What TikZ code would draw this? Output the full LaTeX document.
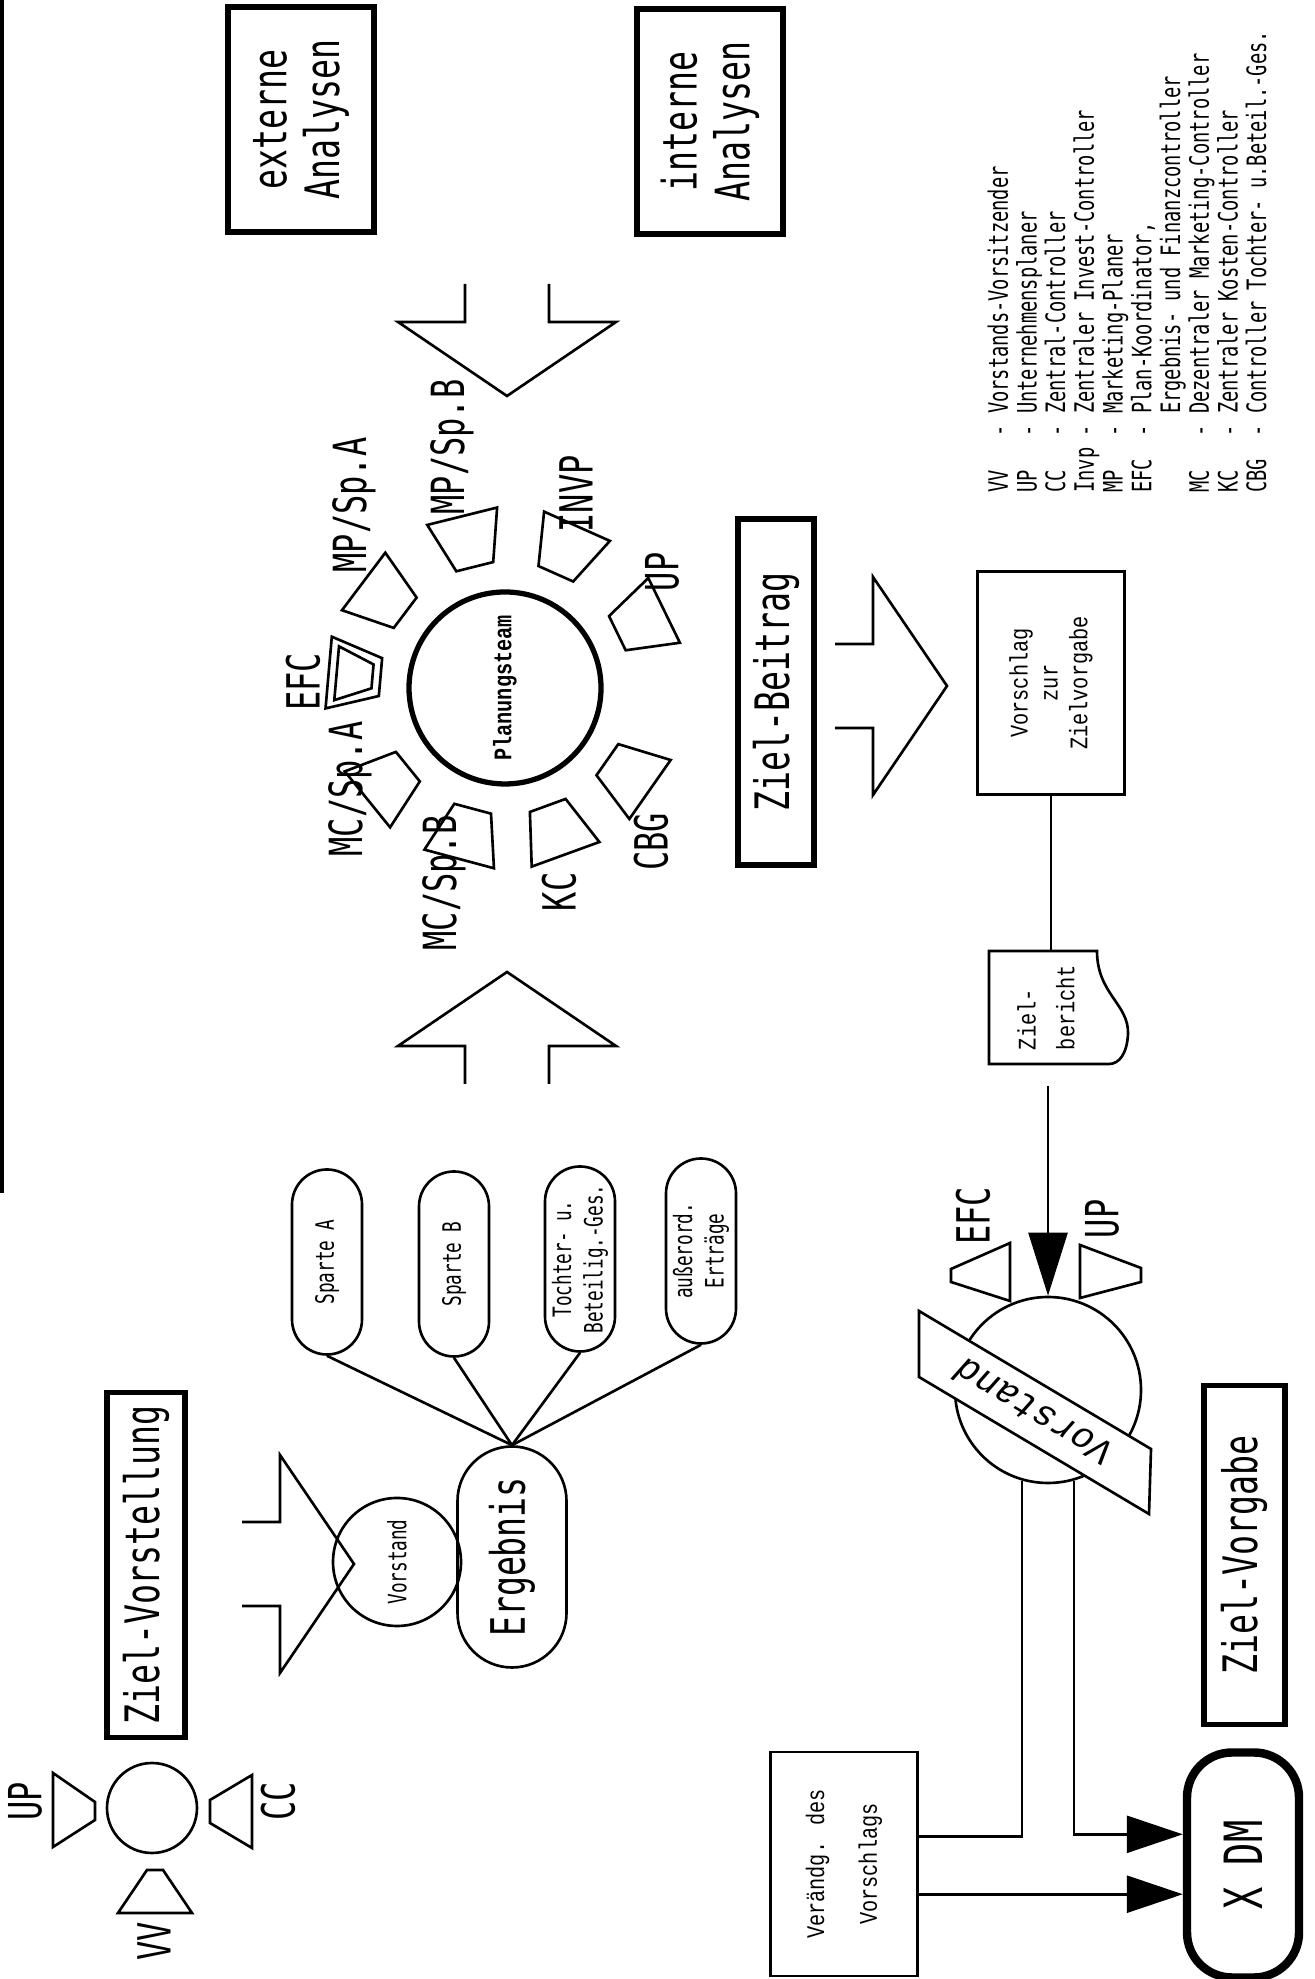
\documentclass[tikz,border=0pt]{standalone}
\usepackage{fontspec}
\usetikzlibrary{shapes.misc,arrows.meta}

\newfontfamily\labfont[FakeStretch=0.7]{DejaVu Sans Mono}
\newfontfamily\typfont[FakeStretch=0.8]{Liberation Mono}
\newfontfamily\bandfont{Liberation Mono}

\tikzset{
  titlebox/.style={draw, line width=1.7pt, inner sep=0pt, align=center,
    font=\labfont\fontsize{13.5}{15}\selectfont},
  pill/.style={draw, rounded rectangle, minimum width=18.5mm, minimum height=7mm,
    inner sep=0pt, align=center, font=\labfont\fontsize{7.2}{9}\selectfont},
  sheet/.style={draw, inner sep=0pt, align=center,
    font=\typfont\fontsize{7.2}{8.5}\selectfont},
  rolelabel/.style={inner sep=0pt, font=\labfont\fontsize{13}{15}\selectfont},
  funnel/.style={draw, fill=white},
  fathead/.style={-{Triangle[length=5.6mm, width=3.7mm]}},
  bighead/.style={-{Triangle[length=6.3mm, width=3.9mm]}},
}

\begin{document}
\begin{tikzpicture}[x=0.1mm, y=0.1mm, line width=0.75pt]
  \useasboundingbox (0,0) rectangle (1314,1979);
  % Blockpfeil: Spitze, Richtung
  \def\openarrow(#1)#2{\draw[shift={(#1)}, rotate=#2]
    (-112,42) -- (-74,42) -- (-74,109) -- (0,0) -- (-74,-109) -- (-74,-42) -- (-112,-42);}

  % Blatt quer gelegt
  \begin{scope}[shift={(1314,0)}, rotate=90, transform shape]
  % Randstrich
  \draw[line width=1.2pt] (786,1312) -- (1979,1312);

  % Ziel-Vorstellung
  \node[draw, circle, minimum size=9mm, inner sep=0pt] (kreis) at (171,1162) {};
  \draw[funnel] (132,1261) -- (206,1261) -- (177,1219) -- (159,1219) -- cycle; % UP
  \draw[funnel] (131,1062) -- (204,1062) -- (179,1104) -- (156,1104) -- cycle; % CC
  \draw[funnel] (66,1122) -- (66,1196) -- (109,1167) -- (109,1151) -- cycle;   % VV
  \node[rolelabel] (upA) at (178,1289) {UP};
  \node[rolelabel] (ccA) at (178,1036) {CC};
  \node[rolelabel] (vvA) at (38,1160) {VV};
  \node[titlebox, minimum width=34.5mm, minimum height=7.8mm] (zielvorst) at (414,1168) {Ziel-Vorstellung};

  \openarrow(415,960){-90}
  \node[draw, circle, minimum size=12.8mm, inner sep=0pt,
    font=\labfont\fontsize{7.2}{9}\selectfont] (vorstand) at (417,917) {Vorstand};
  \node[draw, rounded rectangle, minimum width=22.1mm, minimum height=10.9mm, inner sep=0pt,
    font=\labfont\fontsize{13.5}{15}\selectfont] (ergebnis) at (422,802) {Ergebnis};

  % Ergebnisquellen
  \node[pill] (spA) at (717,987) {Sparte A};
  \node[pill] (spB) at (715,860) {Sparte B};
  \node[pill] (tochter) at (720,734) {Tochter- u.\\Beteilig.-Ges.};
  \node[pill] (ausser) at (728,613) {außerord.\\Erträge};
  \foreach \q in {spA,spB,tochter,ausser}
    \draw (ergebnis.east) -- (\q.west);

  \openarrow(1007,807){0}
  \openarrow(1583,807){180}

  % Planungsteam mit Rollen
  \node[draw, circle, line width=1.5pt, minimum size=19.2mm, inner sep=0pt,
    font=\typfont\bfseries\fontsize{7.2}{9}\selectfont] (team) at (1291,809) {Planungsteam};
  \foreach \a in {129,165,200,235,296,336,14,53}
    \draw[funnel, shift={(1291,809)}, rotate=\a]
      (125,-19) -- (177,-36) -- (177,36) -- (125,19) -- cycle;
  \draw[funnel, shift={(1291,809)}, rotate=85]
    (125,-19) -- (177,-36) -- (177,36) -- (125,19) -- cycle
    (133,-12) -- (169,-27) -- (169,27) -- (133,12) -- cycle;
  \node[rolelabel] (lEFC) at (1297,1011) {EFC};
  \node[rolelabel] (lMCA) at (1190,964) {MC/Sp.A};
  \node[rolelabel] (lMCB) at (1096,870) {MC/Sp.B};
  \node[rolelabel] (lKC) at (1087,755) {KC};
  \node[rolelabel] (lCBG) at (1137,663) {CBG};
  \node[rolelabel] (lUP) at (1407,652) {UP};
  \node[rolelabel] (lINVP) at (1485,738) {INVP};
  \node[rolelabel] (lMPB) at (1532,862) {MP/Sp.B};
  \node[rolelabel] (lMPA) at (1474,960) {MP/Sp.A};

  \node[titlebox, minimum width=22.5mm, minimum height=14.6mm] (extern) at (1859,1013) {externe\\Analysen};
  \node[titlebox, minimum width=22.5mm, minimum height=14.6mm] (intern) at (1857,604) {interne\\Analysen};

  % Ziel-Beitrag
  \node[titlebox, minimum width=34.6mm, minimum height=7.6mm] (zielbeitrag) at (1287,538) {Ziel-Beitrag};
  \openarrow(1293,367){-90}
  \node[sheet, minimum width=22.3mm, minimum height=14.7mm] (vorschlag) at (1296,263) {Vorschlag\\zur\\Zielvorgabe};

  % Zielbericht
  \draw (915,325) -- (1028,325) -- (1028,217)
    .. controls (985,217) and (975,185) .. (945,186)
    .. controls (925,187) and (915,195) .. (915,205) -- cycle;
  \node[minimum width=11.3mm, minimum height=10mm, inner sep=0pt, align=left,
    font=\typfont\fontsize{7.2}{11}\selectfont] (zbericht) at (971.5,268) {Ziel-\\bericht};
  \draw (vorschlag.west) -- (vorschlag.west -| zbericht.east);

  % Vorstand entscheidet
  \node[draw, circle, minimum size=18.6mm, inner sep=0pt] (vdisc) at (589,266) {};
  \draw[fill=white] (602,395) -- (668,395) -- (530,163) -- (465,165) -- cycle;
  \node[rotate=59.3, inner sep=0pt, font=\bandfont\itshape\fontsize{10.5}{12}\selectfont] (band) at (566,280) {Vorstand};
  \draw[bighead, shorten <=2.1mm] (vdisc.east -| zbericht.west) -- (vdisc.east);
  \draw[funnel] (678,304) -- (736,304) -- (710,363) -- (697,363) -- cycle; % EFC
  \draw[funnel] (681,234) -- (734,234) -- (711,173) -- (697,173) -- cycle; % UP
  \node[rolelabel] (lEFCb) at (763,341) {EFC};
  \node[rolelabel] (lUPb) at (760,212) {UP};

  % Ziel-Vorgabe
  \node[titlebox, minimum width=33.9mm, minimum height=8.1mm] (zielvorgabe) at (424,70) {Ziel-Vorgabe};
  \node[sheet, minimum width=22.4mm, minimum height=14.7mm,
    font=\typfont\fontsize{7.2}{15}\selectfont] (aenderung) at (115,470) {Verändg. des\\Vorschlags};
  \node[draw, line width=2.4pt, rounded corners=4.5mm, minimum width=22.5mm, minimum height=11.2mm,
    inner sep=0pt, font=\labfont\fontsize{15}{17}\selectfont] (xdm) at (114,71) {X DM};
  \draw (vdisc.164) -| (aenderung.-70);
  \draw[fathead] (vdisc.196) -| (xdm.63);
  \draw[fathead] (aenderung.-112) -- (aenderung.-112 |- xdm.north);

  % Legende
  \node[anchor=west, inner sep=0pt, font=\labfont\fontsize{7.6}{7.85}\selectfont] (legende) at (1485,183) {%
    \begin{tabular}{@{}l@{ }l@{ }l@{}}
      VV & - & Vorstands-Vorsitzender\\
      UP & - & Unternehmensplaner\\
      CC & - & Zentral-Controller\\
      Invp & - & Zentraler Invest-Controller\\
      MP & - & Marketing-Planer\\
      EFC & - & Plan-Koordinator,\\
          &   & Ergebnis- und Finanzcontroller\\
      MC & - & Dezentraler Marketing-Controller\\
      KC & - & Zentraler Kosten-Controller\\
      CBG & - & Controller Tochter- u.Beteil.-Ges.
    \end{tabular}};
  \end{scope}
\end{tikzpicture}
\end{document}
